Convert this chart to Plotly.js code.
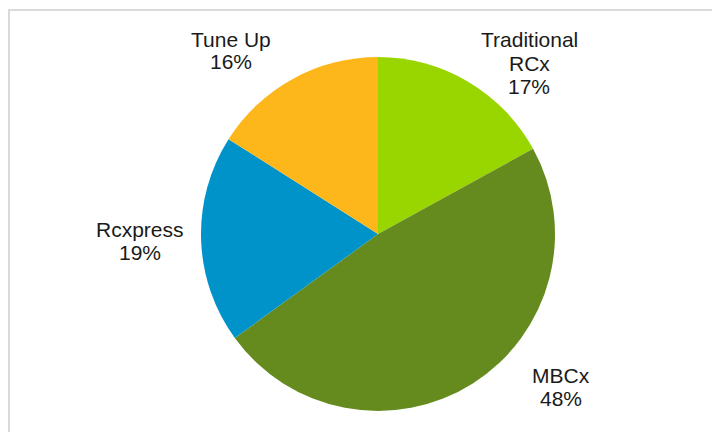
<!DOCTYPE html>
<html>
<head>
<meta charset="utf-8">
<script src="https://cdn.plot.ly/plotly-3.0.1.min.js"></script>
<style>html,body{margin:0;padding:0;background:#fff;}#chart{width:712px;height:432px;}</style>
</head>
<body>
<div id="chart"></div>
<script>
const categories = ["Traditional RCx", "MBCx", "Rcxpress", "Tune Up"];
const values = [17, 48, 19, 16];
const labelLines = [["Traditional", "RCx", "17%"], ["MBCx", "48%"], ["Rcxpress", "19%"], ["Tune Up", "16%"]];
const colors = ["#99d600", "#658b1f", "#0093c9", "#fdb71a"];

// label layout (pixels from top-left): center x, first baseline y
const labelPos = [[529, 47], [561, 382], [140, 236], [231, 46]];
const W = 712, H = 432, lineGap = 23, fontSize = 21;

const annotations = [];
labelLines.forEach((lines, i) => {
  lines.forEach((t, j) => {
    const base = labelPos[i][1] + j * lineGap;
    annotations.push({
      xref: "paper", yref: "paper",
      x: labelPos[i][0] / W,
      y: 1 - (base - 7) / H,
      xanchor: "center", yanchor: "middle",
      text: t, showarrow: false,
      font: {family: "Liberation Sans, Arial, sans-serif", size: fontSize, color: "#1a1a1a"}
    });
  });
});

const cx = 378, cy = 234, r = 177;
const data = [{
  type: "pie",
  labels: categories,
  values: values,
  sort: false,
  direction: "clockwise",
  rotation: 0,
  textinfo: "none",
  hoverinfo: "label+percent",
  marker: {colors: colors, line: {width: 0}},
  domain: {x: [(cx - r) / W, (cx + r) / W], y: [(H - cy - r) / H, (H - cy + r) / H]},
  showlegend: false
}];

const layout = {
  width: W, height: H,
  margin: {l: 0, r: 0, t: 0, b: 0},
  paper_bgcolor: "#ffffff",
  showlegend: false,
  annotations: annotations,
  shapes: [{
    type: "rect", xref: "paper", yref: "paper",
    x0: 9 / W, x1: 1.05, y0: -0.05, y1: 1 - 10 / H,
    line: {color: "#d9d9d9", width: 2}
  }]
};

Plotly.newPlot("chart", data, layout, {displayModeBar: false, staticPlot: true});
</script>
</body>
</html>
